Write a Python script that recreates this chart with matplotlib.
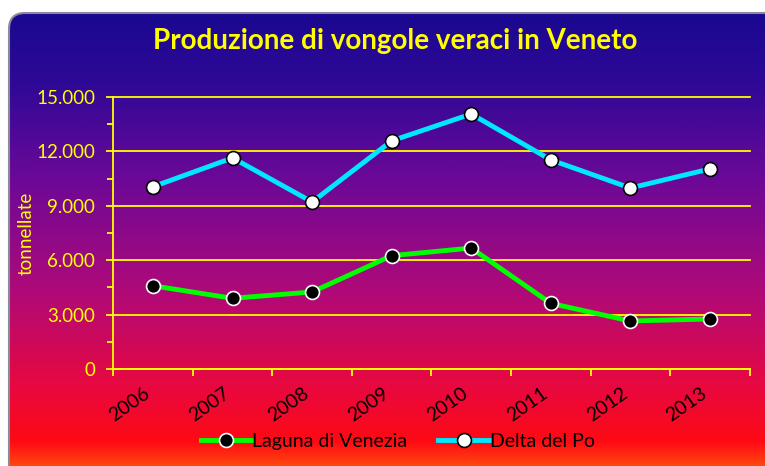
import matplotlib
matplotlib.use("Agg")
import matplotlib.pyplot as plt
import matplotlib.transforms as mtransforms
import numpy as np
from matplotlib.patches import FancyBboxPatch
from matplotlib.colors import LinearSegmentedColormap
from matplotlib.ticker import FuncFormatter, MultipleLocator, FixedLocator

plt.rcParams['font.family'] = ['Lato', 'DejaVu Sans']

anni = ['2006', '2007', '2008', '2009', '2010', '2011', '2012', '2013']
laguna = [4590, 3900, 4250, 6250, 6670, 3620, 2650, 2760]
delta = [10050, 11640, 9210, 12580, 14060, 11530, 9980, 11030]

fig = plt.figure(figsize=(7.65, 4.66), dpi=100)
fig.patch.set_facecolor('white')

# background with gradient, rounded box
bg = fig.add_axes([0, 0, 1, 1])
bg.set_xlim(0, 765)
bg.set_ylim(466, 0)
bg.axis('off')
cmap = LinearSegmentedColormap.from_list('bg', [
    (0.0, '#1a0890'), (0.15, '#2e0896'), (0.35, '#6a0898'),
    (0.6, '#b00a78'), (0.8, '#e80840'), (0.92, '#ff0a14'), (1.0, '#ff6a0a')])
grad = np.linspace(0, 1, 256).reshape(-1, 1)
img = bg.imshow(grad, cmap=cmap, aspect='auto', extent=(8, 790, 480, 12))
box = FancyBboxPatch((9, 13), 800, 490, boxstyle='round,pad=0,rounding_size=16',
                     facecolor='none', edgecolor='#8a8a9a', linewidth=1.5)
bg.add_patch(box)
img.set_clip_path(box)

ax = fig.add_axes([0.148, 0.208, 0.832, 0.584])
ax.patch.set_alpha(0)
x = np.arange(len(anni))
ax.plot(x, laguna, color='#00ff00', lw=3.5, marker='o', ms=10,
        mfc='black', mec='white', mew=1.2, label='Laguna di Venezia', zorder=4)
ax.plot(x, delta, color='#00e8ff', lw=3.5, marker='o', ms=10,
        mfc='white', mec='black', mew=1.2, label='Delta del Po', zorder=4)

ax.set_xlim(-0.5, 7.5)
ax.set_ylim(0, 15000)
ax.yaxis.set_major_locator(MultipleLocator(3000))
ax.yaxis.set_minor_locator(MultipleLocator(1500))
ax.yaxis.set_major_formatter(FuncFormatter(lambda v, p: f'{int(v):,}'.replace(',', '.')))
ax.grid(axis='y', color='#ffff00', lw=1.3)
for gl in ax.get_ygridlines():
    gl.set_clip_on(False)
ax.set_axisbelow(True)
ax.set_xticks(x)
ax.set_xticklabels(anni, rotation=35, fontsize=14, color='black', ha='right')
shift = mtransforms.ScaledTranslation(5 / 100, 0, fig.dpi_scale_trans)
for lab in ax.get_xticklabels():
    lab.set_transform(lab.get_transform() + shift)
ax.tick_params(axis='x', length=0, pad=11)
ax.xaxis.set_minor_locator(FixedLocator(np.arange(-0.5, 8, 1)))
ax.tick_params(axis='x', which='minor', length=5, color='#ffff00', width=1.3, direction='out')
ax.tick_params(axis='y', which='both', colors='#ffff00', labelsize=13.5, width=1.3)
ax.tick_params(axis='y', which='major', length=5, pad=8)
ax.tick_params(axis='y', which='minor', length=4)
for s in ['top', 'right']:
    ax.spines[s].set_visible(False)
for s in ['left', 'bottom']:
    ax.spines[s].set_color('#ffff00')
    ax.spines[s].set_linewidth(1.3)
ax.set_ylabel('tonnellate', color='#ffff00', fontsize=13.5, labelpad=1)

fig.text(0.516, 0.913, 'Produzione di vongole veraci in Veneto', ha='center', va='center',
         color='#ffff00', fontsize=20, fontweight='bold')

fig.legend(loc='center', bbox_to_anchor=(0.52, 0.052), ncol=2, frameon=False,
           fontsize=14, handlelength=2.6, columnspacing=1.6, handletextpad=0.05)

fig.savefig('out.png', dpi=100, facecolor=fig.get_facecolor())
